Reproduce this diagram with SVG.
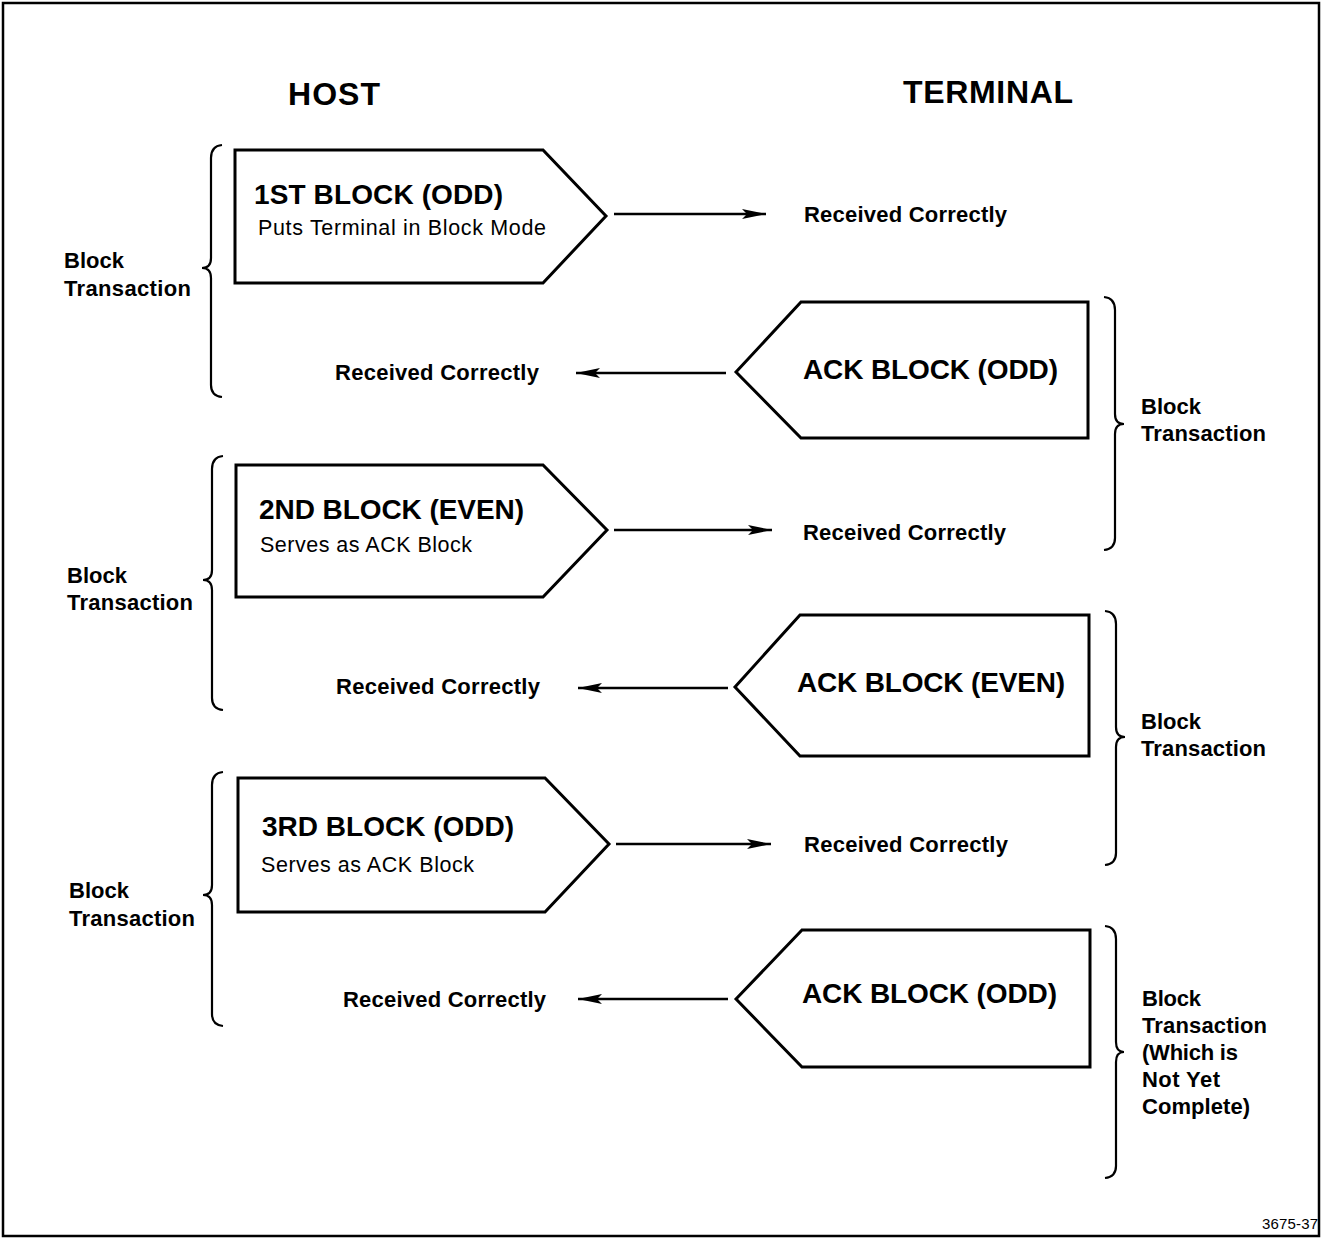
<svg xmlns="http://www.w3.org/2000/svg" width="1322" height="1238" viewBox="0 0 1322 1238">
<defs>
<style>
.box{fill:#fff;stroke:#000;stroke-width:3;stroke-linejoin:miter}
.br{fill:none;stroke:#000;stroke-width:2.2}
.ln{fill:none;stroke:#000;stroke-width:2.4}
text{font-family:"Liberation Sans",Arial,sans-serif;fill:#000}
.hd{font-size:32px;font-weight:bold}
.ti{font-size:28px;font-weight:bold}
.sub{font-size:21.5px}
.rc{font-size:22px;font-weight:bold}
.lb{font-size:22px;font-weight:bold}
</style>
<marker id="ah" viewBox="0 0 24 10" refX="24" refY="5" markerWidth="24" markerHeight="10" markerUnits="userSpaceOnUse" orient="auto">
<path d="M0 0 L24 5 L0 10 L5 5 Z" fill="#000"/>
</marker>
</defs>
<rect x="3" y="3" width="1316" height="1233" fill="#fff" stroke="#000" stroke-width="2.5"/>
<g id="titles">
<text class="hd" x="288" y="105" textLength="92">HOST</text>
<text class="hd" x="903" y="103" textLength="170">TERMINAL</text>
</g>
<g id="block1">
<path class="box" d="M235 150 L543 150 L606 216 L543 283 L235 283 Z"/>
<text class="ti" x="254" y="204" textLength="249">1ST BLOCK (ODD)</text>
<text class="sub" x="258" y="235" textLength="288">Puts Terminal in Block Mode</text>
</g>
<g id="block2">
<path class="box" d="M236 465 L543 465 L607 530 L543 597 L236 597 Z"/>
<text class="ti" x="259" y="519" textLength="265">2ND BLOCK (EVEN)</text>
<text class="sub" x="260" y="552" textLength="212">Serves as ACK Block</text>
</g>
<g id="block3">
<path class="box" d="M238 778 L545 778 L609 844 L545 912 L238 912 Z"/>
<text class="ti" x="262" y="836" textLength="252">3RD BLOCK (ODD)</text>
<text class="sub" x="261" y="872" textLength="213">Serves as ACK Block</text>
</g>
<g id="ack1">
<path class="box" d="M736 372 L801 302 L1088 302 L1088 438 L801 438 Z"/>
<text class="ti" x="803" y="379" textLength="255">ACK BLOCK (ODD)</text>
</g>
<g id="ack2">
<path class="box" d="M735 687 L800 615 L1089 615 L1089 756 L800 756 Z"/>
<text class="ti" x="797" y="692" textLength="268">ACK BLOCK (EVEN)</text>
</g>
<g id="ack3">
<path class="box" d="M736 999 L802 930 L1090 930 L1090 1067 L802 1067 Z"/>
<text class="ti" x="802" y="1003" textLength="255">ACK BLOCK (ODD)</text>
</g>
<g id="received-labels">
<text class="rc" x="804" y="222" textLength="203">Received Correctly</text>
<text class="rc" x="335" y="380" textLength="204">Received Correctly</text>
<text class="rc" x="803" y="540" textLength="203">Received Correctly</text>
<text class="rc" x="336" y="694" textLength="204">Received Correctly</text>
<text class="rc" x="804" y="852" textLength="204">Received Correctly</text>
<text class="rc" x="343" y="1007" textLength="203">Received Correctly</text>
</g>
<g id="connectors">
<line class="ln" x1="614" y1="214" x2="766" y2="214" marker-end="url(#ah)"/>
<line class="ln" x1="726" y1="373" x2="576" y2="373" marker-end="url(#ah)"/>
<line class="ln" x1="614" y1="530" x2="772" y2="530" marker-end="url(#ah)"/>
<line class="ln" x1="728" y1="688" x2="578" y2="688" marker-end="url(#ah)"/>
<line class="ln" x1="616" y1="844" x2="771" y2="844" marker-end="url(#ah)"/>
<line class="ln" x1="728" y1="999" x2="578" y2="999" marker-end="url(#ah)"/>
</g>
<g id="braces-host">
<path class="br" d="M222 145 Q211 146 211 158 L211 258 Q211 268 202 268 Q211 268 211 278 L211 385 Q211 396 222 397"/>
<path class="br" d="M223 456 Q212 457 212 469 L212 570 Q212 580 203 580 Q212 580 212 590 L212 698 Q212 709 223 710"/>
<path class="br" d="M223 772 Q212 773 212 785 L212 885 Q212 895 203 895 Q212 895 212 905 L212 1014 Q212 1025 223 1026"/>
</g>
<g id="braces-terminal">
<path class="br" d="M1104 297 Q1115 298 1115 310 L1115 414 Q1115 424 1124 424 Q1115 424 1115 434 L1115 538 Q1115 549 1104 550"/>
<path class="br" d="M1105 611 Q1116 612 1116 624 L1116 727 Q1116 737 1125 737 Q1116 737 1116 747 L1116 853 Q1116 864 1105 865"/>
<path class="br" d="M1105 926 Q1116 927 1116 939 L1116 1042 Q1116 1052 1124 1052 Q1116 1052 1116 1062 L1116 1166 Q1116 1177 1105 1178"/>
</g>
<g id="transaction-labels">
<text class="lb" x="64" y="268" textLength="60">Block</text>
<text class="lb" x="64" y="296" textLength="127">Transaction</text>
<text class="lb" x="67" y="583" textLength="60">Block</text>
<text class="lb" x="67" y="610" textLength="126">Transaction</text>
<text class="lb" x="69" y="898" textLength="60">Block</text>
<text class="lb" x="69" y="926" textLength="126">Transaction</text>
<text class="lb" x="1141" y="414" textLength="60">Block</text>
<text class="lb" x="1141" y="441" textLength="125">Transaction</text>
<text class="lb" x="1141" y="729" textLength="60">Block</text>
<text class="lb" x="1141" y="756" textLength="125">Transaction</text>
<text class="lb" x="1142" y="1006" textLength="59">Block</text>
<text class="lb" x="1142" y="1033" textLength="125">Transaction</text>
<text class="lb" x="1142" y="1060" textLength="96">(Which is</text>
<text class="lb" x="1142" y="1087" textLength="78">Not Yet</text>
<text class="lb" x="1142" y="1114" textLength="108">Complete)</text>
</g>
<text x="1262" y="1229" font-size="15" textLength="56">3675-37</text>
</svg>
